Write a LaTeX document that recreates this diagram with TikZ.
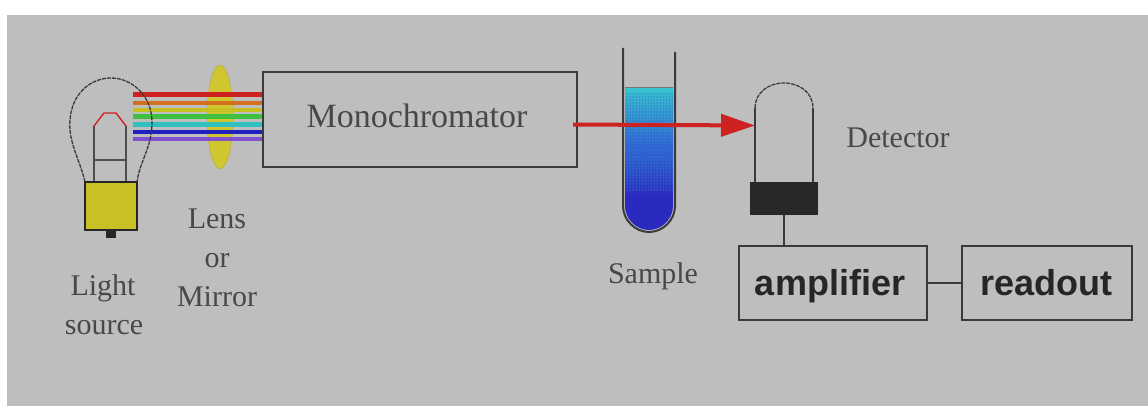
\documentclass[tikz,border=0pt]{standalone}
\usepackage{fontspec}
\setmainfont{Liberation Serif}
\setsansfont{Liberation Sans}
\usetikzlibrary{arrows.meta,patterns}

\definecolor{bg}{RGB}{190,190,190}
\definecolor{ink}{RGB}{58,58,58}
\definecolor{labelgray}{RGB}{72,72,72}
\definecolor{beamred}{RGB}{204,34,34}
\definecolor{beamorange}{RGB}{208,112,32}
\definecolor{beamyellow}{RGB}{200,192,32}
\definecolor{beamgreen}{RGB}{64,192,64}
\definecolor{beamcyan}{RGB}{48,192,192}
\definecolor{beamblue}{RGB}{32,32,192}
\definecolor{beamviolet}{RGB}{128,80,208}
\definecolor{lensyellow}{RGB}{208,198,48}
\definecolor{baseyellow}{RGB}{200,192,36}
\definecolor{liqcyan}{RGB}{56,196,208}
\definecolor{liqmid}{RGB}{48,112,212}
\definecolor{liqblue}{RGB}{42,42,192}
\definecolor{darkbase}{RGB}{40,40,40}

\begin{document}
\begin{tikzpicture}[x=1pt,y=-1pt,
  lbl/.style={text=labelgray, font=\fontsize{30}{36}\selectfont, inner sep=0pt},
  boxlbl/.style={text=black!85, font=\sffamily\bfseries\fontsize{36}{40}\selectfont, inner sep=0pt},
  frame/.style={draw=ink, line width=2pt, fill=none, inner sep=0pt},
  glass/.style={draw=ink, line width=1.3pt, dash pattern=on 4pt off 1pt},
  wire/.style={draw=ink!90, line width=1.6pt},
  beam/.style={line width=#1, line cap=butt},
]
\useasboundingbox (0,0) rectangle (1148,406);
\fill[white] (0,0) rectangle (1148,406);
\fill[bg] (7,15) rectangle (1148,406);

% ---------- lens ----------
\fill[lensyellow, draw=lensyellow!70!gray, line width=0.6pt] (220,117) ellipse [x radius=13, y radius=52];

% ---------- light beams ----------
\draw[beam=5pt, beamred]    (133,95)  -- (263,95);
\draw[beam=4pt, beamorange] (133,103) -- (263,103);
\draw[beam=4pt, beamyellow] (133,110) -- (263,110);
\draw[beam=5pt, beamgreen]  (133,117) -- (263,117);
\draw[beam=5pt, beamcyan]   (133,124.5) -- (263,124.5);
\draw[beam=4pt, beamblue]   (133,132) -- (263,132);
\draw[beam=4pt, beamviolet] (133,139) -- (263,139);

% ---------- light bulb ----------
\draw[glass] (85,182) .. controls (80,160) and (68,142) .. (70,120)
  .. controls (72,92) and (92,78) .. (111,78)
  .. controls (132,78) and (152,96) .. (152,122)
  .. controls (152,148) and (140,160) .. (137,182);
\draw[wire] (94,126) -- (94,182);
\draw[wire] (126,126) -- (126,182);
\draw[wire] (94,160) -- (126,160);
\draw[beamred, line width=1.4pt] (94,126) -- (104,113) -- (116,113) -- (126,126);
\node[draw=black!85, line width=2.2pt, fill=baseyellow, minimum width=52pt, minimum height=48pt, inner sep=0pt] (bulbbase) at (111,206) {};
\node[fill=black!85, minimum width=10pt, minimum height=7pt, inner sep=0pt, anchor=north] (bulbtab) at (bulbbase.south) {};

% ---------- labels on the left ----------
\node[lbl, anchor=base] (light)  at (103,295) {Light};
\node[lbl, anchor=base] (source) at (104,334) {source};
\node[lbl, anchor=base] (lens)   at (217,228) {Lens};
\node[lbl, anchor=base] (or)     at (217,267) {or};
\node[lbl, anchor=base] (mirror) at (217,306) {Mirror};

% ---------- monochromator ----------
\node[frame, minimum width=314pt, minimum height=95pt] (mono) at (420,119.5) {};
\node[text=labelgray, font=\fontsize{34}{40}\selectfont, inner sep=0pt, anchor=base] (monolabel) at (417,128) {Monochromator};

% ---------- sample tube ----------
\fill[liqblue] (625,88) -- (625,206) .. controls (625,219) and (636,230) .. (649,230)
  .. controls (662,230) and (673,219) .. (673,206) -- (673,88) -- cycle;
\shade[top color=liqcyan, bottom color=liqblue, middle color=liqmid] (625,88) rectangle (673,196);
\fill[pattern=dots, pattern color=liqblue] (625,92) rectangle (673,150);
\fill[pattern=dots, pattern color=liqcyan] (625,155) rectangle (673,192);
\draw[ink!70, line width=1pt] (625,88) -- (673,88);
\draw[ink, line width=2pt] (623,48) -- (623,206) .. controls (623,220) and (635,232) .. (649,232)
  .. controls (663,232) and (675,220) .. (675,206) -- (675,52);
\node[lbl, anchor=base] (sample) at (653,283) {Sample};

% ---------- detector ----------
\node[fill=darkbase, minimum width=68pt, minimum height=33pt, inner sep=0pt] (detbase) at (784,198.5) {};
\coordinate (domeL) at (755,182);
\coordinate (domeR) at (813,182);
\draw[ink, line width=1.6pt] (domeL) -- (755,108);
\draw[ink, line width=1.6pt] (domeR) -- (813,108);
\draw[glass] (755,108) .. controls (755,93) and (768,83) .. (784,83)
  .. controls (800,83) and (813,93) .. (813,108);
\node[lbl, anchor=base] (detlabel) at (898,148) {Detector};

% ---------- measuring beam ----------
\coordinate (beamstart) at (573,124.5);
\coordinate (beamend) at (755,125.5);
\draw[beamred, line width=4pt, -{Triangle[length=34pt,width=22pt]}] (beamstart) -- (beamend);

% ---------- electronics ----------
\node[frame, minimum width=188pt, minimum height=74pt] (amp) at (833,283) {};
\node[frame, minimum width=170pt, minimum height=74pt] (readbox) at (1047,283) {};
\node[boxlbl, anchor=base] (amplabel) at (830,295) {amplifier};
\node[boxlbl, anchor=base] (readlabel) at (1046,295) {readout};
\draw[ink, line width=2pt] (detbase.south) -- (detbase.south |- amp.north);
\draw[ink, line width=2pt] (amp.east) -- (readbox.west);
\end{tikzpicture}
\end{document}
